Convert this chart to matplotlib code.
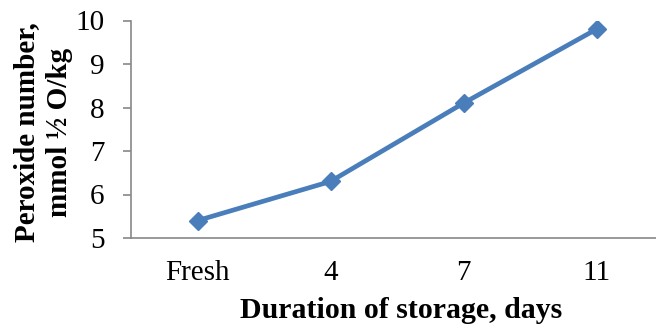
import matplotlib
matplotlib.use("Agg")
import matplotlib.pyplot as plt

categories = ["Fresh", "4", "7", "11"]
values = [5.4, 6.3, 8.1, 9.8]
yticks = [5, 6, 7, 8, 9, 10]

plt.rcParams['font.family'] = ['Liberation Serif', 'DejaVu Serif']

fig = plt.figure(figsize=(6.56, 3.28), dpi=100)
ax = fig.add_axes([131/656, 1 - 238/328, (663 - 131)/656, (238 - 20.5)/328])

x = list(range(len(categories)))
ax.plot(x, values, color="#4A7EBB", linewidth=3.4, marker="D", markersize=9,
        markerfacecolor="#4A7EBB", markeredgecolor="#4A7EBB")

ax.set_xlim(-0.5, len(categories) - 0.5)
ax.set_ylim(5, 10)
ax.set_yticks(yticks)
ax.set_yticklabels([str(t) for t in yticks], fontsize=21)
ax.set_xticks(x)
ax.set_xticklabels(categories, fontsize=21)
ax.tick_params(axis='x', length=0, pad=16)
ax.tick_params(axis='y', length=6, width=1.2, color="#888888", pad=13)

for s in ['top', 'right']:
    ax.spines[s].set_visible(False)
for s in ['left', 'bottom']:
    ax.spines[s].set_color("#888888")
    ax.spines[s].set_linewidth(1.2)

fig.text(43/656, 1 - 132/328, "Peroxide number,\nmmol ½ O/kg", fontsize=21,
         fontweight='bold', rotation=90, ha='center', va='center',
         multialignment='center', linespacing=1.3)
fig.text(401/656, 1 - 311/328, "Duration of storage, days", fontsize=21.5,
         fontweight='bold', ha='center', va='center')

fig.savefig("out.png", dpi=100)
